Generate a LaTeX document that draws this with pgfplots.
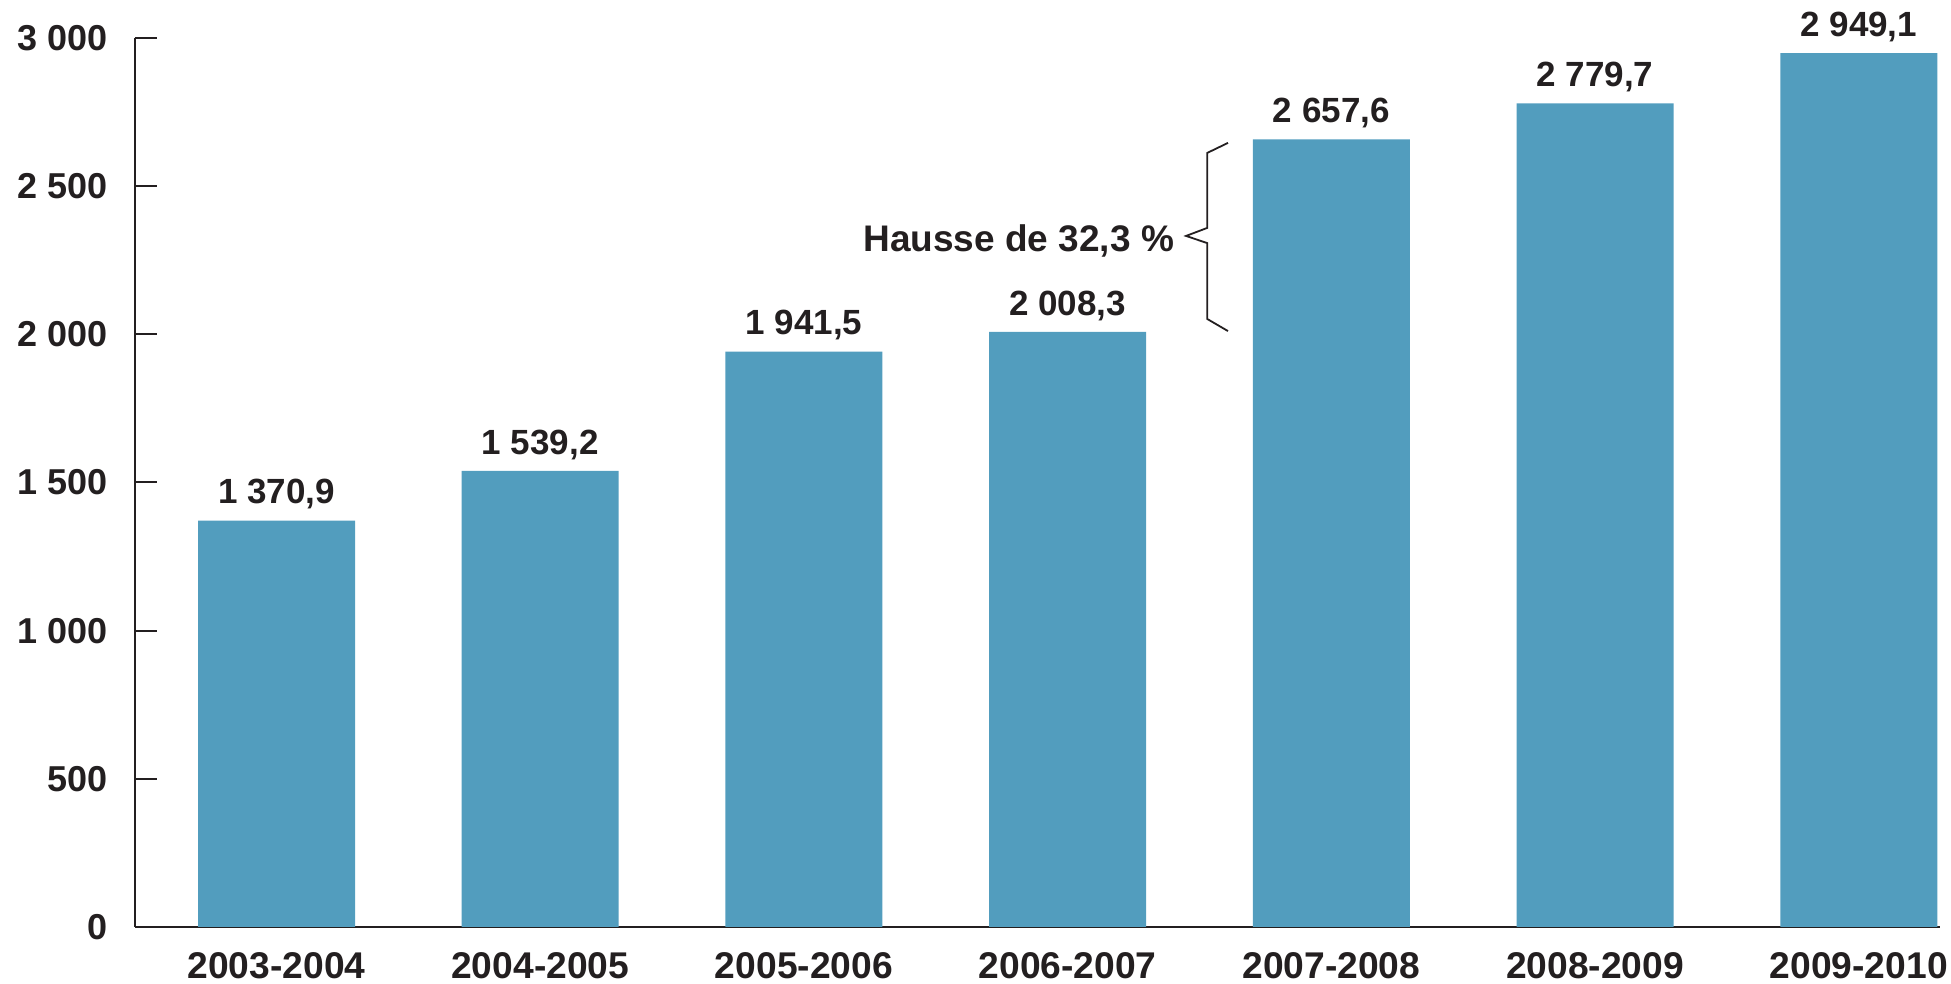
\documentclass[border=0pt]{standalone}
\usepackage{pgfplots}
\pgfplotsset{compat=1.18}
\usepackage{fontspec}
\setmainfont{Liberation Sans}
\definecolor{barblue}{RGB}{82,157,190}
\definecolor{ink}{RGB}{35,31,32}
\begin{document}
\begin{tikzpicture}
\begin{axis}[
  at={(0,0)}, anchor=south west,
  scale only axis, width=902.5pt, height=444.5pt,
  xmin=-0.5366, xmax=6.308, ymin=0, ymax=3000,
  axis x line*=bottom, axis y line*=left,
  axis line style={line width=1pt, color=ink},
  clip=false,
  xtick={0,1,2,3,4,5,6},
  xticklabels={2003-2004,2004-2005,2005-2006,2006-2007,2007-2008,2008-2009,2009-2010},
  ytick={0,500,1000,1500,2000,2500,3000},
  yticklabels={0,500,1 000,1 500,2 000,2 500,3 000},
  xtick style={draw=none},
  ytick style={line width=1pt, color=ink},
  tick align=inside, major tick length=11pt,
  yticklabel style={font=\fontsize{18}{20}\selectfont\bfseries, text=ink, inner sep=0pt, anchor=east, xshift=-13.5pt},
  xticklabel style={font=\fontsize{18.6}{20}\selectfont\bfseries, text=ink, inner sep=0pt, anchor=north, yshift=-12.5pt},
  nodes near coords,
  point meta=explicit symbolic,
  every node near coord/.append style={font=\fontsize{17.5}{19}\selectfont\bfseries, text=ink, inner sep=0pt, anchor=south, yshift=5.5pt},
]
\addplot[ybar, bar width=78.5pt, fill=barblue, draw=none] coordinates {
  (0,1370.9) [1~370,9]
  (1,1539.2) [1~539,2]
  (2,1941.5) [1~941,5]
  (3,2008.3) [2~008,3]
  (4,2657.6) [2~657,6]
  (5,2779.7) [2~779,7]
  (6,2949.1) [2~949,1]
};
\draw[line width=0.9pt, color=ink]
  (axis cs:3.608,2011) -- (axis cs:3.529,2052) -- (axis cs:3.529,2308) -- (axis cs:3.449,2332)
  -- (axis cs:3.529,2359) -- (axis cs:3.529,2612) -- (axis cs:3.608,2646);
\node[anchor=base east, inner sep=0pt, font=\fontsize{18.5}{20}\selectfont\bfseries, text=ink] at (axis cs:3.405,2278) {Hausse de 32,3 \%};
\end{axis}
\pgfresetboundingbox
\useasboundingbox (-67.5pt,-28.5pt) rectangle (908pt,463.5pt);
\end{tikzpicture}
\end{document}
